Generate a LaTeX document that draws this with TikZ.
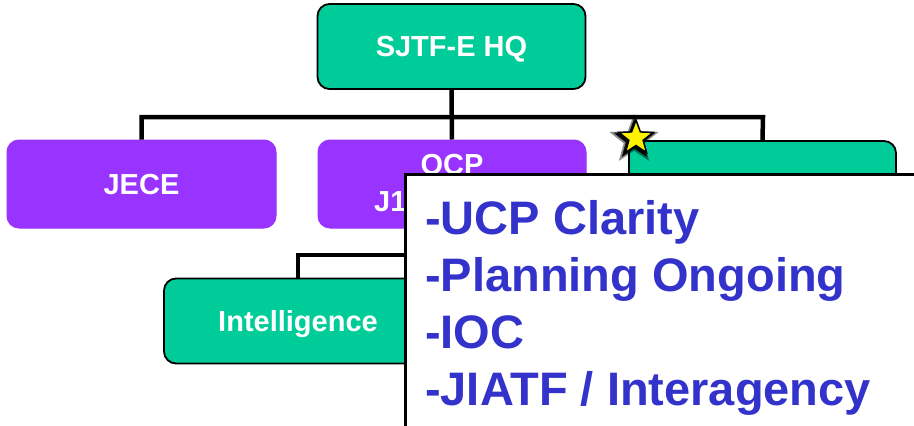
\documentclass[tikz,border=0pt]{standalone}
\usepackage{fontspec}
\setmainfont{Liberation Sans}
\usetikzlibrary{shapes.geometric}
\definecolor{boxgreen}{HTML}{00CC99}
\definecolor{boxpurple}{HTML}{9933FF}
\definecolor{txtblue}{HTML}{3333CC}
\tikzset{
  orgbox/.style={rounded corners=12pt, minimum width=268pt, minimum height=86pt, inner sep=0pt,
    text=white, font=\fontsize{29}{37}\selectfont\bfseries, align=center, text depth=0pt},
  greenbox/.style={orgbox, fill=boxgreen, draw=black, line width=1.8pt},
  purplebox/.style={orgbox, fill=boxpurple, draw=boxpurple, line width=1pt},
  wtext/.style={text=white, font=\fontsize{29}{37}\selectfont\bfseries, inner sep=0pt},
  conn/.style={line width=4.5pt, draw=black},
  bluetext/.style={text=txtblue, font=\fontsize{47}{57}\selectfont\bfseries, inner sep=0pt, anchor=base west},
  starbox/.style={star, star points=5, star point ratio=2.4, inner sep=0pt},
}
\begin{document}
\begin{tikzpicture}[x=1pt,y=-1pt]
\useasboundingbox (0,0) rectangle (914,426);
% boxes
\node[greenbox, minimum height=85pt] (hq) at (451.5,46.5) {SJTF-E HQ};
\node[purplebox, minimum width=269pt, minimum height=88pt] (jece) at (141.5,184) {JECE};
\node[purplebox, minimum height=88pt] (ocp) at (452,184) {};
\node[wtext] (ocpT) at (452,165) {OCP};
\node[wtext, anchor=west] (jone) at (374,202) {J1};
\node[greenbox, minimum width=267pt, minimum height=88pt] (third) at (762.5,185) {};
\node[greenbox, minimum height=85pt] (intel) at (298,321) {Intelligence};
% connectors
\coordinate (busR) at (763,117);
\coordinate (busB) at (452,255);
\draw[conn] (jece.north) |- (busR) -- (third.north);
\draw[conn] (hq.south) -- (ocp.north);
\draw[conn] (ocp.south) -- (busB) -| (intel.north);
% star with dark halo
\node[starbox, minimum size=40pt, fill=black, draw=black, line width=4pt, opacity=0.45] (starhalo) at (634,140) {};
\node[starbox, minimum size=38pt, fill=black, draw=black, line width=2pt, opacity=0.8] (starshadow) at (634.5,139.5) {};
\node[starbox, minimum size=36pt, fill=yellow, draw=black, line width=1.5pt] (star) at (636,138) {};
% overlay white box
\draw[fill=white, draw=black, line width=3pt] (405,174) rectangle (930,440);
\node[bluetext] (l1) at (425,234) {-UCP Clarity};
\node[bluetext] (l2) at (425,291) {-Planning Ongoing};
\node[bluetext] (l3) at (425,348) {-IOC};
\node[bluetext] (l4) at (425,405) {-JIATF / Interagency};
\end{tikzpicture}
\end{document}
